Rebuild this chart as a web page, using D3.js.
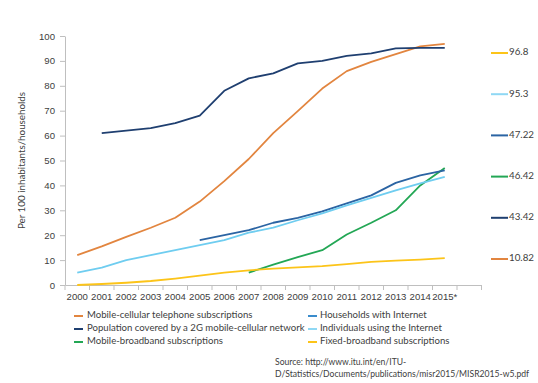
<!DOCTYPE html>
<html>
<head>
<meta charset="utf-8">
<script src="https://cdn.jsdelivr.net/npm/d3@7"></script>
<style>
  body { margin: 0; background: #fff; }
  svg { font-family: Lato, "Open Sans", sans-serif; }
  .axis text { fill: #404040; font-size: 9.6px; }
  .axis path, .axis line { stroke: #bfbfbf; }
</style>
</head>
<body>
<div id="chart"></div>
<script>
// categories (last band is an empty slot on the axis)
const years = ['2000', '2001', '2002', '2003', '2004', '2005', '2006', '2007', '2008',
    '2009', '2010', '2011', '2012', '2013', '2014', '2015*', ''];
const yTicks = [0, 10, 20, 30, 40, 50, 60, 70, 80, 90, 100];

// series values, null where no data
const mobileCellular = [12, 15.5, 19.3, 23, 27, 33.5, 41.7, 50.6, 61, 69.8, 78.9, 85.9, 89.6, 92.7, 95.8, 96.8];
const population2G = [null, 61, 62, 63, 65, 68, 78, 83, 85, 89, 90, 92, 93, 95, 95.2, 95.2];
const mobileBroadband = [null, null, null, null, null, null, null, 5, 8.2, 11.2, 14, 20.3, 25, 30, 40, 47];
const households = [null, null, null, null, null, 18, 20, 22, 25, 27, 29.6, 32.8, 36, 41, 44, 46];
const individuals = [5, 7, 10, 12, 14, 16, 18, 21, 23, 26, 28.8, 32, 35, 38, 40.8, 43.4];
const fixedBroadband = [0, 0.4, 0.9, 1.6, 2.6, 3.8, 5, 5.9, 6.6, 7.1, 7.6, 8.4, 9.3, 9.8, 10.2, 10.8];

const seriesNames = ['Mobile-cellular telephone subscriptions', 'Population covered by a 2G mobile-cellular network',
    'Mobile-broadband subscriptions', 'Households with Internet', 'Individuals using the Internet',
    'Fixed-broadband subscriptions'];
const seriesValues = [mobileCellular, population2G, mobileBroadband, households, individuals, fixedBroadband];
const seriesColors = ['#e2853f', '#1f3f70', '#23a755', '#2b64a3', '#6fcdf0', '#fcc419'];
const legendColors = ['#e2853f', '#1f3f70', '#23a755', '#3a8ccc', '#8fd8f4', '#fcc419'];

// right-hand labels as shown in the picture
const sideLabels = ['96.8', '95.3', '47.22', '46.42', '43.42', '10.82'];
const sideColors = ['#fcc419', '#8fd8f4', '#2b64a3', '#23a755', '#1f3f70', '#e2853f'];

const width = 538, height = 383;
const margin = { top: 36, right: 57, bottom: 98, left: 65 };

const svg = d3.select('#chart').append('svg')
    .attr('width', width)
    .attr('height', height);

const x = d3.scaleBand()
    .domain(years)
    .range([margin.left, width - margin.right + 0.5]);

const y = d3.scaleLinear()
    .domain([0, 100])
    .range([height - margin.bottom, margin.top]);

// y axis
svg.append('g')
    .attr('class', 'axis')
    .attr('transform', `translate(${margin.left},0)`)
    .call(d3.axisLeft(y).tickValues(yTicks).tickSize(5).tickSizeOuter(0).tickPadding(4))
    .call(g => g.selectAll('text').attr('dx', -1));

// x axis, ticks between categories
const xAxis = svg.append('g')
    .attr('class', 'axis')
    .attr('transform', `translate(0,${y(0)})`)
    .call(d3.axisBottom(x).tickSize(0).tickPadding(8));

xAxis.selectAll('.bound')
    .data(d3.range(years.length + 1))
    .join('line')
    .attr('class', 'bound')
    .attr('x1', i => margin.left + i * x.step())
    .attr('x2', i => margin.left + i * x.step())
    .attr('y1', 0)
    .attr('y2', 5)
    .attr('stroke', '#bfbfbf');

// y axis title
svg.append('text')
    .attr('transform', `translate(23,${(y(0) + y(100)) / 2}) rotate(-90)`)
    .attr('text-anchor', 'middle')
    .attr('dominant-baseline', 'middle')
    .attr('fill', '#404040')
    .style('font-size', '9.8px')
    .text('Per 100 inhabitants/households');

// lines
const line = d3.line()
    .defined(d => d != null)
    .x((d, i) => x(years[i]) + x.bandwidth() / 2)
    .y(d => y(d));

svg.append('g')
    .selectAll('path')
    .data(seriesValues)
    .join('path')
    .attr('fill', 'none')
    .attr('stroke', (d, i) => seriesColors[i])
    .attr('stroke-width', 1.8)
    .attr('stroke-linejoin', 'round')
    .attr('d', line);

// right-hand labels
const side = svg.append('g')
    .selectAll('g')
    .data(sideLabels)
    .join('g')
    .attr('transform', (d, i) => `translate(491,${53 + i * 41.2})`);

side.append('line')
    .attr('x1', 0)
    .attr('x2', 17)
    .attr('stroke', (d, i) => sideColors[i])
    .attr('stroke-width', 2);

side.append('text')
    .attr('x', 18)
    .attr('dominant-baseline', 'middle')
    .attr('fill', '#404040')
    .style('font-size', '9.8px')
    .text(d => d);

// bottom legend, two columns
const legend = svg.append('g')
    .selectAll('g')
    .data(seriesNames)
    .join('g')
    .attr('transform', (d, i) => `translate(${i < 3 ? 74 : 308},${316 + (i % 3) * 13})`);

legend.append('line')
    .attr('x1', 0)
    .attr('x2', 9)
    .attr('stroke', (d, i) => legendColors[i])
    .attr('stroke-width', 2);

legend.append('text')
    .attr('x', (d, i) => i < 3 ? 13 : 12)
    .attr('dominant-baseline', 'middle')
    .attr('fill', '#404040')
    .style('font-size', '9.6px')
    .text(d => d);

// source note
const source = svg.append('text')
    .attr('fill', '#404040')
    .style('font-size', '8.6px');

source.append('tspan')
    .attr('x', 275)
    .attr('y', 365)
    .text('Source: http://www.itu.int/en/ITU-');

source.append('tspan')
    .attr('x', 275)
    .attr('y', 377)
    .text('D/Statistics/Documents/publications/misr2015/MISR2015-w5.pdf');
</script>
</body>
</html>
